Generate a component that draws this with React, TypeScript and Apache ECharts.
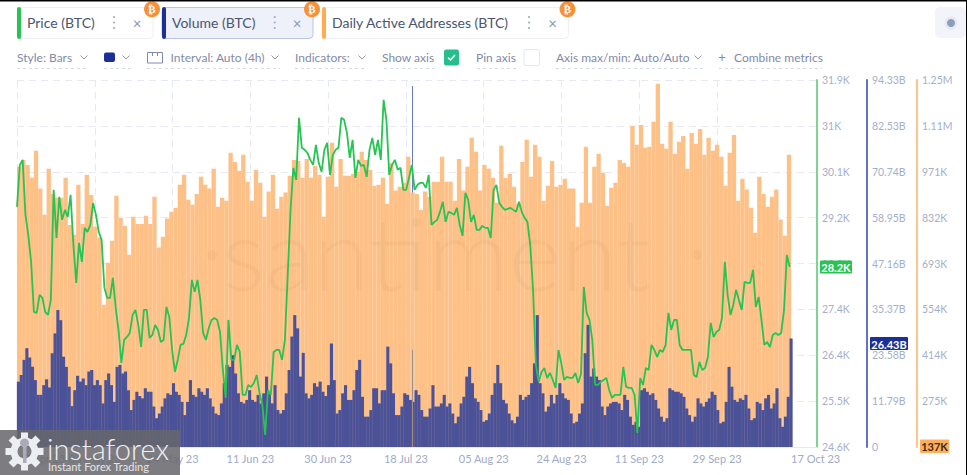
import React, { useEffect, useRef } from "react";
import * as echarts from "echarts";

const FONT = "Lato, 'Open Sans', sans-serif";

// Daily Active Addresses (thousands), one per day from 17 Apr 23
const addressValues = [
  986,1007,992,953,1035,920,841,980,904,892,892,953,810,780,932,813,962,901,804,771,568,695,762,898,832,807,719,835,813,813,838,813,895,741,774,829,850,862,932,962,886,871,904,956,932,920,980,865,892,883,1029,1001,974,1023,941,883,977,938,835,911,962,859,895,908,959,1007,1004,
  953,1010,953,989,962,835,956,1059,926,1010,959,959,965,971,1032,1007,977,929,932,953,874,998,914,926,938,1017,908,904,856,911,895,941,941,1017,941,941,883,1010,914,986,1074,1032,914,992,980,953,877,1050,953,965,926,874,1001,1068,956,1053,1017,883,929,1004,926,932,
  950,920,920,804,877,1047,877,986,1026,968,868,923,938,1007,998,986,1110,1053,1113,1044,1047,1123,1238,1056,1041,1123,1026,1062,1080,980,1089,1056,1101,1023,1074,1035,1053,1017,929,1029,1083,883,950,917,862,786,956,904,865,895,917,826,777,1023,
];

// Volume (billions), one per 16 hours
const volumeValues = [
  16.8,18.5,22.4,25.4,23.0,20.6,17.2,13.4,13.4,15.9,17.4,15.3,24.1,29.2,35.2,32.6,23.2,20.6,15.5,10.5,14.6,18.3,16.8,17.6,15.9,19.4,19.8,15.9,17.2,15.9,11.2,17.2,18.9,15.9,11.6,20.6,21.1,18.9,19.4,14.6,9.5,12.1,14.2,13.1,12.5,15.1,14.2,14.2,10.4,7.4,8.6,10.4,12.5,13.8,13.4,16.4,14.2,13.4,11.6,8.2,11.6,17.2,13.4,12.9,15.1,14.2,13.4,15.1,12.5,10.4,8.6,8.2,11.2,16.4,21.1,20.6,23.6,18.9,13.8,11.6,11.2,12.1,14.6,12.1,11.6,13.4,11.2,13.8,18.1,13.8,11.2,15.9,9.5,8.6,9.5,13.8,19.8,28.4,33.9,30.5,18.1,
  24.2,13.8,12.5,13.4,16.4,15.5,16.8,14.2,13.1,15.9,26.6,17.2,8.6,9.5,13.8,15.9,12.1,12.1,14.6,19.8,22.4,12.9,7.8,7.8,9.5,15.1,15.1,11.2,14.6,14.6,25.8,21.5,13.8,8.2,8.2,10.4,13.8,13.4,12.1,11.6,14.6,13.4,9.5,7.8,7.8,9.9,15.9,10.4,10.4,11.2,13.4,10.4,11.2,8.6,6.1,7.8,11.2,12.9,18.1,20.6,16.4,12.5,11.6,9.5,6.5,6.9,8.6,13.4,16.4,21.1,16.4,12.1,11.2,8.6,6.9,6.1,7.8,13.4,12.1,12.9,13.4,16.4,21.5,33.9,16.4,13.8,9.1,10.4,13.4,11.2,13.4,
  16.4,13.8,12.5,12.1,8.6,6.1,6.5,8.6,11.2,24.1,31.4,18.1,20.2,18.1,17.2,10.4,8.2,10.4,11.2,11.6,11.6,11.2,9.5,13.4,12.1,7.8,5.7,6.5,5.2,14.6,15.1,14.2,13.4,13.8,12.1,9.9,7.8,6.5,7.4,15.1,14.6,14.2,14.2,13.8,12.9,9.9,8.2,6.5,7.8,12.5,11.2,10.4,11.6,12.5,14.2,13.4,9.5,6.1,6.5,11.6,20.6,15.5,12.1,11.6,12.5,12.1,13.4,9.9,6.9,7.4,11.6,11.2,9.5,12.5,13.4,9.9,11.2,15.1,7.4,5.2,7.8,12.9,27.9,
];

// Price (thousands of USD), one per 16 hours
const priceValues = [
  29.4,30.24,30.34,29.24,28.84,28.3,27.3,27.28,27.64,27.58,27.3,27.24,27.54,29.74,28.78,29.6,29.14,29.34,29.2,29.64,28.64,27.88,28.68,28.3,28.98,28.9,29.04,29.48,29.24,28.9,28.74,27.78,27.58,27.58,27.98,27.38,26.94,26.28,26.74,26.8,26.88,27.24,27.34,27.04,26.6,27.34,27.34,26.78,26.84,27.04,26.94,26.7,26.74,27.4,27.2,26.54,26.1,26.34,26.64,26.66,26.84,27.18,27.94,27.7,27.94,27.54,26.88,26.74,26.98,27.14,27.18,27.14,26.9,26.14,25.58,27.14,26.34,26.34,26.64,26.5,25.64,25.64,25.84,25.8,25.88,26.04,25.68,25.44,24.84,25.74,25.64,26.5,26.54,26.54,26.34,26.74,28.04,29.34,30.18,29.94,
  31.18,30.58,30.54,30.48,30.34,30.24,30.64,30.28,30.1,30.54,30.68,30.04,30.44,30.54,30.58,31.18,31.14,30.88,30.38,30.74,29.98,30.34,30.22,30.24,30.0,30.54,30.78,30.44,30.74,30.34,31.54,31.14,30.04,30.24,30.34,30.14,30.18,29.74,29.74,29.98,30.24,29.74,29.84,29.88,29.88,29.78,30.04,29.04,29.1,29.14,29.3,29.5,29.1,29.3,29.28,29.24,29.38,29.04,28.82,29.68,29.54,29.1,29.24,28.94,28.94,29.02,28.98,28.98,28.78,29.74,29.84,29.48,29.4,29.34,29.36,29.38,29.34,29.3,29.5,29.3,29.18,29.1,28.64,27.74,26.24,25.9,26.1,26.18,25.98,26.08,25.94,25.78,
  26.54,26.28,25.94,26.0,25.98,25.98,26.08,25.88,26.06,27.8,27.28,27.14,26.74,25.84,25.84,25.9,25.94,25.98,25.74,25.58,25.64,25.64,25.64,26.2,25.8,25.78,25.78,25.64,24.88,25.98,25.84,26.18,26.14,26.64,26.54,26.4,26.54,26.5,26.64,27.28,26.94,27.14,27.14,26.64,26.54,26.54,26.54,26.54,26.04,26.0,26.3,26.14,26.18,26.4,27.08,26.8,26.9,26.94,27.18,28.3,27.64,27.24,27.44,27.74,27.54,27.34,27.9,27.88,27.88,28.14,27.4,27.6,27.14,26.64,26.7,26.6,26.84,26.88,26.84,26.88,27.34,28.44,28.2,
];

const volumeSpikeDay = 93.5;
const volumeSpikeHigh = 92.8;
const volumeSpikeLow = 25;

const dateLabels = ["17 Apr 23","06 May 23","24 May 23","11 Jun 23","30 Jun 23","18 Jul 23","05 Aug 23","24 Aug 23","11 Sep 23","29 Sep 23","17 Oct 23"];
const dateDays = [0,18.39,36.78,55.17,73.56,91.95,110.34,128.73,147.12,165.51,183];
const gridDays = dateDays.slice(0, 10);

const priceTicks = [24.6,25.517,26.434,27.351,28.268,29.185,30.102,31.019,31.936];
const volumeTicks = [0,11.79125,23.5825,35.37375,47.165,58.95625,70.7475,82.53875,94.33];
const addressTicks = [136,275.2,414.4,553.6,692.8,832,971.2,1110.4,1249.6];

const AXIS_DAYS = 800 / 4.23;
const DAY_STEP = 2 / 3;

const GREEN = "#27c453";
const NAVY = "#1b2f97";
const ORANGE = "#ffad54";
const BAR_ORANGE = "#fdc087";
const BAR_BLUE = "#4b5298";
const MUTED = "#7f8ba8";
const AXIS_TEXT = "#a5afc9";
const ROW_SIZE = 12;

const txt = (text: string, x: number, y: number, size: number, fill: string, extra: any = {}) => ({
  type: "text",
  z: 50,
  style: { text, x, y, fill, font: `${extra.weight || 400} ${size}px ${extra.family || FONT}`, textAlign: extra.align || "left", textVerticalAlign: "middle" },
});
const chevron = (x: number, y: number) => ({
  type: "polyline", z: 50,
  shape: { points: [[x - 3.5, y - 1.5], [x, y + 2], [x + 3.5, y - 1.5]] },
  style: { stroke: "#8d97b0", fill: "none", lineWidth: 1 },
});
const underline = (x1: number, x2: number) => ({
  type: "line", z: 50,
  shape: { x1, y1: 68.5, x2, y2: 68.5 },
  style: { stroke: "#d5dae8", lineWidth: 1, lineDash: [3, 3] },
});
const kebab = (x: number) => [17, 22.5, 28].map((y) => ({
  type: "circle", z: 50, shape: { cx: x, cy: y, r: 1.1 }, style: { fill: "#a9b2c8" },
}));
const chip = (x: number, right: number, label: string, color: string, tx: number, dots: number, close: number, active: boolean) => [
  { type: "rect", z: 45, shape: { x, y: 7.5, width: right - x, height: 31, r: 4 }, style: { fill: active ? "#eef1fa" : "#fff", stroke: active ? "#b7c4ec" : "#eef0f6", lineWidth: 1 } },
  { type: "rect", z: 46, shape: { x, y: 7, width: 4, height: 32, r: 2 }, style: { fill: color } },
  txt(label, tx, 22.5, 14, "#4a5570"),
  ...kebab(dots),
  txt("×", close, 22.5, 15, "#8d97b0", { align: "center" }),
  { type: "circle", z: 47, shape: { cx: right - 1, cy: 9.3, r: 8 }, style: { fill: "#f5913a" } },
  txt("₿", right - 1, 9.3, 11, "#fff", { align: "center", weight: 700, family: "'DejaVu Sans'" }),
];
const tag = (x: number, y: number, w: number, h: number, bg: string, fg: string, label: string) => [
  { type: "rect", z: 60, shape: { x, y, width: w, height: h, r: 1 }, style: { fill: bg } },
  { ...txt(label, x + w / 2, y + h / 2 + 0.5, 11, fg, { align: "center", weight: 700 }), z: 61 },
];

const gearTeeth = [0, 45, 90, 135, 180, 225, 270, 315].map((deg) => ({
  type: "rect", z: 101,
  x: 24.5, y: 451.5, rotation: (deg * Math.PI) / 180,
  shape: { x: -3.5, y: -19, width: 7, height: 7 },
  style: { fill: "#eceef2" },
}));

const graphics: any[] = [
  { type: "rect", z: 70, shape: { x: 0, y: 0, width: 967, height: 1.5 }, style: { fill: "#000" } },
  { type: "rect", z: 70, shape: { x: 966, y: 0, width: 1, height: 475 }, style: { fill: "#000" } },
  ...chip(17, 153, "Price (BTC)", GREEN, 27, 114, 137, false),
  ...chip(162, 313, "Volume (BTC)", NAVY, 172, 274.7, 297, true),
  ...chip(322, 568.5, "Daily Active Addresses (BTC)", ORANGE, 332, 529, 552.7, false),
  { type: "rect", z: 45, shape: { x: 935, y: 7, width: 31, height: 31, r: 5 }, style: { fill: "#f2f4fa" } },
  { type: "circle", z: 46, shape: { cx: 951, cy: 23, r: 6.5 }, style: { fill: "#e5e9f4" } },
  { type: "circle", z: 47, shape: { cx: 951, cy: 23, r: 4 }, style: { fill: "#8e9bbd" } },
  txt("Style: Bars", 17, 57, ROW_SIZE, MUTED), chevron(84, 57), underline(17, 88),
  { type: "rect", z: 50, shape: { x: 104, y: 52.5, width: 11, height: 9.5, r: 2 }, style: { fill: NAVY } }, chevron(126, 57), underline(104, 131),
  { type: "rect", z: 50, shape: { x: 147.5, y: 52.5, width: 15, height: 10.5 }, style: { fill: "none", stroke: "#7f8ba8", lineWidth: 1 } },
  { type: "polyline", z: 50, shape: { points: [[152.5, 52.5], [152.5, 56]] }, style: { stroke: "#7f8ba8", lineWidth: 1, fill: "none" } },
  { type: "polyline", z: 50, shape: { points: [[157.5, 52.5], [157.5, 56]] }, style: { stroke: "#7f8ba8", lineWidth: 1, fill: "none" } },
  txt("Interval: Auto (4h)", 170.5, 57, ROW_SIZE, MUTED), chevron(275, 57), underline(147, 280),
  txt("Indicators:", 295, 57, ROW_SIZE, MUTED), chevron(362, 57), underline(295, 367),
  txt("Show axis", 382, 57, ROW_SIZE, MUTED), underline(384, 435),
  { type: "rect", z: 50, shape: { x: 444, y: 49.5, width: 15, height: 16, r: 2 }, style: { fill: "#26bf8c" } },
  { type: "polyline", z: 51, shape: { points: [[448, 57.5], [450.5, 60], [455, 55]] }, style: { stroke: "#fff", lineWidth: 1.5, fill: "none" } },
  txt("Pin axis", 476, 57, ROW_SIZE, MUTED), underline(477, 516),
  { type: "rect", z: 50, shape: { x: 524, y: 49.5, width: 15.5, height: 16, r: 2 }, style: { fill: "#fff", stroke: "#e4e7f0", lineWidth: 1 } },
  txt("Axis max/min: Auto/Auto", 556, 57, ROW_SIZE, MUTED), chevron(698, 57), underline(556, 703),
  txt("+", 722, 57, 13, MUTED, { align: "center" }),
  txt("Combine metrics", 734, 57, ROW_SIZE, MUTED), underline(719, 822),

  { type: "text", z: 4, style: { text: "santiment", x: 222, y: 252, fill: "rgba(160,120,90,0.075)", font: `300 101px ${FONT}`, textVerticalAlign: "middle" } },
  { type: "circle", z: 4, shape: { cx: 212, cy: 255, r: 5 }, style: { fill: "rgba(160,120,90,0.075)" } },
  { type: "circle", z: 4, shape: { cx: 697, cy: 255, r: 5 }, style: { fill: "rgba(160,120,90,0.075)" } },

  ...tag(820, 260.5, 32, 13, "#27c453", "#fff", "28.2K"),
  ...tag(870, 337, 38, 13, NAVY, "#fff", "26.43B"),
  ...tag(920, 439.5, 29, 13.5, "#ffae5c", "#3a2a18", "137K"),

  { type: "rect", z: 100, shape: { x: 0, y: 430, width: 180, height: 45 }, style: { fill: "rgba(104,104,108,0.86)" } },
  ...gearTeeth,
  { type: "ring", z: 101, shape: { cx: 24.5, cy: 451.5, r: 14, r0: 7 }, style: { fill: "#eceef2" } },
  { type: "circle", z: 102, shape: { cx: 24.5, cy: 443, r: 4.5 }, style: { fill: "#a9abb8" } },
  { type: "rect", z: 102, shape: { x: 23, y: 445, width: 3.5, height: 18 }, style: { fill: "#a9abb8" } },
  { type: "text", z: 101, style: { text: "instaforex", x: 47, y: 448, fill: "#f0f0f2", font: `300 29px ${FONT}`, textVerticalAlign: "middle" } },
  { type: "text", z: 101, style: { text: "Instant Forex Trading", x: 48, y: 466, fill: "#e6e6ea", font: `400 11px ${FONT}`, textVerticalAlign: "middle" } },
];

const hiddenX = (): any => ({
  type: "value", min: 0, max: AXIS_DAYS, show: false, splitLine: { show: false },
});

const yAxisBase = (min: number, max: number, ticks: number[], offset: number, color: string, fmt: (v: number) => string, split: boolean): any => ({
  type: "value",
  position: "right",
  offset,
  min,
  max,
  axisLine: { show: true, onZero: false, lineStyle: { color, width: 2 } },
  axisTick: { show: false, customValues: ticks },
  axisLabel: { color: AXIS_TEXT, fontSize: 10.5, fontFamily: FONT, margin: 5, customValues: ticks, formatter: fmt, showMinLabel: true, showMaxLabel: true },
  splitLine: { show: split, lineStyle: { color: "#e6e9f4", type: [7, 5], width: 1 } },
});

const fmtPrice = (v: number) => `${parseFloat(v.toFixed(1))}K`;
const fmtVolume = (v: number) => (v === 0 ? "0" : `${(Math.floor(v * 100 + 1e-6) / 100).toFixed(2)}B`);
const fmtAddress = (v: number) => (v >= 1000 ? `${(v / 1000).toFixed(2)}M` : `${Math.round(v)}K`);

export default function App() {
  const ref = useRef<HTMLDivElement>(null);
  useEffect(() => {
    const chart = echarts.init(ref.current!, undefined, { renderer: "svg" });
    chart.setOption({
      animation: false,
      backgroundColor: "#fff",
      textStyle: { fontFamily: FONT },
      grid: { left: 17, right: 150, top: 80, bottom: 28, containLabel: false },
      graphic: graphics,
      xAxis: [
        {
          type: "value",
          min: 0,
          max: AXIS_DAYS,
          axisLine: { show: true, onZero: false, lineStyle: { color: "#e6e9f4" } },
          axisTick: { show: false, customValues: gridDays },
          axisLabel: {
            color: "#9eaac8",
            fontSize: 11,
            fontFamily: FONT,
            margin: 6,
            customValues: dateDays,
            alignMinLabel: "left",
            alignMaxLabel: "left",
            formatter: (v: number) => dateLabels[dateDays.indexOf(v)] ?? "",
          },
          splitLine: { show: true, lineStyle: { color: "#e6e9f4", type: [7, 5], width: 1 } },
        },
        hiddenX(),
        hiddenX(),
        hiddenX(),
      ],
      yAxis: [
        yAxisBase(priceTicks[0], priceTicks[8], priceTicks, 0, "#7ed492", fmtPrice, true),
        yAxisBase(volumeTicks[0], volumeTicks[8], volumeTicks, 50, "#6472c2", fmtVolume, false),
        yAxisBase(addressTicks[0], addressTicks[8], addressTicks, 100, "#ffc48a", fmtAddress, false),
      ],
      series: [
        {
          name: "Volume spike",
          type: "bar", xAxisIndex: 3, yAxisIndex: 1, z: 1, barWidth: 1,
          itemStyle: { color: "#6a78c8" },
          data: [[volumeSpikeDay, volumeSpikeHigh]],
        },
        {
          name: "Daily Active Addresses (BTC)",
          type: "bar", xAxisIndex: 0, yAxisIndex: 2, z: 2, barWidth: 4.3,
          itemStyle: { color: BAR_ORANGE },
          data: addressValues.map((v, i) => [i + 0.5, v]),
        },
        {
          name: "Volume (BTC)",
          type: "bar", xAxisIndex: 1, yAxisIndex: 1, z: 3, barWidth: 3.1,
          itemStyle: { color: BAR_BLUE },
          data: volumeValues.map((v, i) => [(i + 0.5) * DAY_STEP, v]),
        },
        {
          name: "Volume spike low",
          type: "bar", xAxisIndex: 2, yAxisIndex: 1, z: 3, barWidth: 1,
          itemStyle: { color: "#a58f86" },
          data: [[volumeSpikeDay, volumeSpikeLow]],
        },
        {
          name: "Price (BTC)",
          type: "line", xAxisIndex: 0, yAxisIndex: 0, z: 5, showSymbol: false, symbol: "none",
          lineStyle: { color: GREEN, width: 1.8 },
          data: priceValues.map((v, i) => [i * DAY_STEP, v]),
        },
      ],
    });
    return () => chart.dispose();
  }, []);
  return <div ref={ref} style={{ position: "fixed", left: 0, top: 0, width: 967, height: 475 }} />;
}
